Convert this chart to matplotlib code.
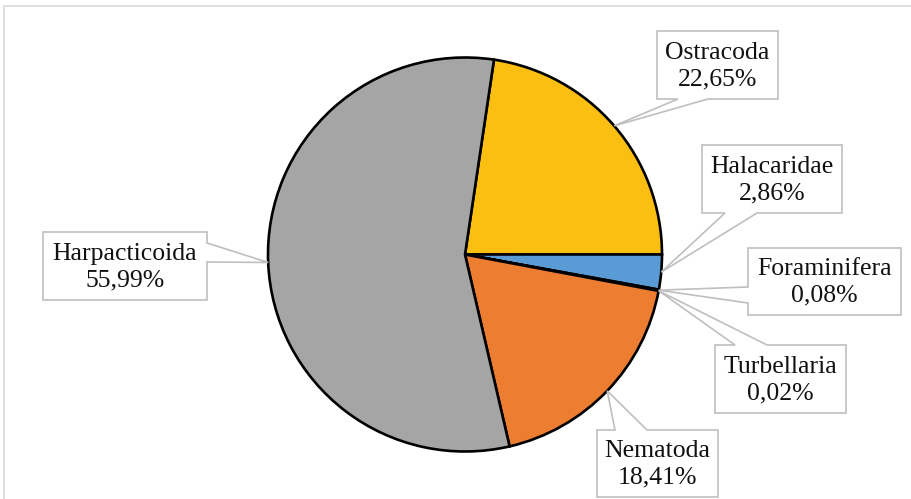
import numpy as np
import matplotlib
matplotlib.use("Agg")
import matplotlib.pyplot as plt
from matplotlib.patches import Polygon

# Composition of meiofauna groups (%)
groups = ["Ostracoda", "Halacaridae", "Foraminifera", "Turbellaria", "Nematoda", "Harpacticoida"]
shares = [22.65, 2.86, 0.08, 0.02, 18.41, 55.99]
labels = ["22,65%", "2,86%", "0,08%", "0,02%", "18,41%", "55,99%"]
colors = ["#FBBF12", "#5B9BD5", "#4472C4", "#70AD47", "#ED7D31", "#A5A5A5"]

W, H = 912, 499
fig = plt.figure(figsize=(W / 100, H / 100), dpi=100)
ax = fig.add_axes([0, 0, 1, 1])

def Y(y):
    return H - y

cx, cy, r = 465, Y(254.5), 197
start = 81.54
wedges, _ = ax.pie(shares, colors=colors, startangle=start, counterclock=False,
                   center=(cx, cy), radius=r,
                   wedgeprops=dict(edgecolor="black", linewidth=1.9))
ax.set_xlim(0, W)
ax.set_ylim(0, H)
ax.set_aspect("auto")
ax.axis("off")

# chart area border
ax.plot([4, 4, W], [0, Y(6), Y(6)], color="#D9D9D9", lw=1.2, zorder=1)

# callout boxes: (x0, y0, x1, y1) in pixels from top-left, pointer side and base points
boxes = {
    "Ostracoda":     ((657, 31, 778, 99),  "bottom", (678, 708)),
    "Halacaridae":   ((702, 145, 842, 213), "bottom", (725, 757)),
    "Foraminifera":  ((748, 248, 901, 315), "left",   (287, 303)),
    "Turbellaria":   ((715, 345, 846, 413), "top",    (735, 767)),
    "Nematoda":      ((597, 430, 718, 497), "top",    (615, 647)),
    "Harpacticoida": ((43, 232, 207, 300),  "right",  (243, 262)),
}

def callout(box, side, base, tip):
    x0, y0, x1, y1 = box
    b0, b1 = base
    tx, ty = tip
    if side == "bottom":
        pts = [(x0, y0), (x1, y0), (x1, y1), (b1, y1), (tx, ty), (b0, y1), (x0, y1)]
    elif side == "top":
        pts = [(x0, y0), (b0, y0), (tx, ty), (b1, y0), (x1, y0), (x1, y1), (x0, y1)]
    elif side == "left":
        pts = [(x0, y0), (x1, y0), (x1, y1), (x0, y1), (x0, b1), (tx, ty), (x0, b0)]
    else:
        pts = [(x0, y0), (x1, y0), (x1, b0), (tx, ty), (x1, b1), (x1, y1), (x0, y1)]
    return [(px, Y(py)) for px, py in pts]

for wedge, name, lab in zip(wedges, groups, labels):
    mid = np.deg2rad((wedge.theta1 + wedge.theta2) / 2)
    tip_x = cx + r * np.cos(mid)
    tip_y = H - (cy + r * np.sin(mid))
    box, side, base = boxes[name]
    poly = Polygon(callout(box, side, base, (tip_x, tip_y)), closed=True,
                   facecolor="white", edgecolor="#BFBFBF", lw=1.2, zorder=5)
    ax.add_patch(poly)
    x0, y0, x1, y1 = box
    ax.text((x0 + x1) / 2, Y((y0 + y1) / 2 + 1), f"{name}\n{lab}",
            ha="center", va="center", fontsize=18.5, family="Liberation Serif",
            color="#111111", linespacing=1.28, zorder=6)

fig.savefig("out.png", dpi=100)
